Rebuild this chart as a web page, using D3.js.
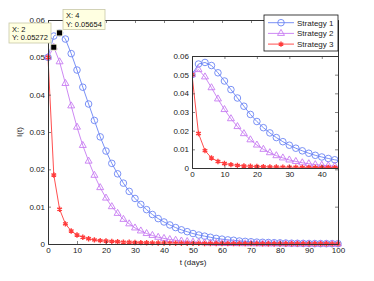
<!DOCTYPE html>
<html>
<head>
<meta charset="utf-8">
<script src="https://cdn.jsdelivr.net/npm/d3@7"></script>
<style>
  body { margin: 0; background: #fff; }
  #chart { width: 374px; height: 281px; }
  text { font-family: "Liberation Sans", Arial, sans-serif; }
</style>
</head>
<body>
<div id="chart"></div>
<script>
// time points (days), one every 2 days
var days = d3.range(0, 101, 2);

var strategy1 = [0.05, 0.0557, 0.05654, 0.0549, 0.0510, 0.0466, 0.0420, 0.0375, 0.0331, 0.0287,
  0.0249, 0.0216, 0.0188, 0.0163, 0.0141, 0.0122, 0.0106, 0.0092, 0.0079, 0.0068,
  0.0059, 0.0051, 0.0044, 0.0038, 0.0033, 0.0028, 0.0024, 0.0021, 0.0018, 0.0015,
  0.0013, 0.0011, 0.0010, 0.0008, 0.0007, 0.0006, 0.0005, 0.00045, 0.0004, 0.00035,
  0.0003, 0.00025, 0.0002, 0.00018, 0.00015, 0.00013, 0.00011, 0.0001, 0.00009, 0.00008, 0.00007];

var strategy2 = [0.05, 0.05272, 0.0488, 0.0430, 0.0370, 0.0313, 0.0264, 0.0222, 0.0184, 0.0151,
  0.0123, 0.0100, 0.0082, 0.0066, 0.0054, 0.0043, 0.0035, 0.0028, 0.0023, 0.0018,
  0.0015, 0.0012, 0.0010, 0.0008, 0.00065, 0.0005, 0.0004, 0.00033, 0.00027, 0.00022,
  0.00018, 0.00015, 0.00012, 0.0001, 0.00008, 0.00007, 0.00006, 0.00005, 0.00004, 0.00004,
  0.00003, 0.00003, 0.00002, 0.00002, 0.00002, 0.00001, 0.00001, 0.00001, 0.00001, 0.00001, 0.00001];

var strategy3 = [0.05, 0.0185, 0.0093, 0.0054, 0.0035, 0.0024, 0.0018, 0.0014, 0.0011, 0.0009,
  0.0008, 0.0007, 0.0006, 0.0005, 0.00045, 0.0004, 0.00036, 0.00033, 0.0003, 0.00027,
  0.00025, 0.00023, 0.00021, 0.0002, 0.00018, 0.00017, 0.00016, 0.00015, 0.00014, 0.00013,
  0.00012, 0.00011, 0.00011, 0.0001, 0.0001, 0.00009, 0.00009, 0.00008, 0.00008, 0.00007,
  0.00007, 0.00007, 0.00006, 0.00006, 0.00006, 0.00005, 0.00005, 0.00005, 0.00005, 0.00004, 0.00004];

var seriesNames = ["Strategy 1", "Strategy 2", "Strategy 3"];
var xTicks = [0, 10, 20, 30, 40, 50, 60, 70, 80, 90, 100];
var yTicks = [0, 0.01, 0.02, 0.03, 0.04, 0.05, 0.06];
var insetXTicks = [0, 10, 20, 30, 40];

// data tips
var tipPoints = [{ t: 2, v: 0.05272 }, { t: 4, v: 0.05654 }];

var colors = ["#6b84f4", "#c77cf2", "#ff3b3b"];
var markers = [d3.symbolCircle, d3.symbolTriangle, d3.symbolAsterisk];

var allSeries = [strategy1, strategy2, strategy3].map(function(vals, i) {
  return { name: seriesNames[i], color: colors[i], marker: markers[i],
    points: vals.map(function(v, j) { return { t: days[j], v: v }; }) };
});

var svg = d3.select("#chart").append("svg")
  .attr("width", 374).attr("height", 281);

function drawMarkers(g, s, x, y) {
  var sym = d3.symbol().type(s.marker).size(s.marker === d3.symbolAsterisk ? 20 : (s.marker === d3.symbolTriangle ? 21 : 34));
  g.selectAll(null).data(s.points).enter().append("path")
    .attr("d", sym)
    .attr("transform", function(d) { return "translate(" + x(d.t) + "," + y(d.v) + ")"; })
    .attr("fill", "none")
    .attr("stroke", s.color)
    .attr("stroke-width", s.marker === d3.symbolAsterisk ? 1.4 : 0.9);
}

function drawAxes(g, x, y, xt, yt, w, h) {
  var c = "#333";
  g.append("g").attr("transform", "translate(0," + h + ")")
    .call(d3.axisBottom(x).tickValues(xt).tickSizeInner(-3).tickSizeOuter(0).tickPadding(3).tickFormat(d3.format("d")));
  g.append("g").call(d3.axisTop(x).tickValues(xt).tickSizeInner(-3).tickSizeOuter(0).tickFormat(""));
  g.append("g")
    .call(d3.axisLeft(y).tickValues(yt).tickSizeInner(-3).tickSizeOuter(0).tickPadding(3).tickFormat(function(d) { return d === 0 ? "0" : d3.format(".2f")(d); }));
  g.append("g").attr("transform", "translate(" + w + ",0)")
    .call(d3.axisRight(y).tickValues(yt).tickSizeInner(-3).tickSizeOuter(0).tickFormat(""));
  g.selectAll(".domain").attr("stroke", c);
  g.selectAll(".tick line").attr("stroke", c).attr("stroke-width", 0.6);
  g.selectAll(".tick text").attr("fill", "#222").style("font-size", "8px");
}

// main axes
var margin = { left: 48, top: 20, right: 36, bottom: 37 };
var W = 374 - margin.left - margin.right;
var H = 281 - margin.top - margin.bottom;
var x = d3.scaleLinear().domain([0, 100]).range([0, W]);
var y = d3.scaleLinear().domain([0, 0.06]).range([H, 0]);
var main = svg.append("g").attr("transform", "translate(" + margin.left + "," + margin.top + ")");
main.append("rect").attr("width", W).attr("height", H).attr("fill", "#fff");

var line = d3.line().x(function(d) { return x(d.t); }).y(function(d) { return y(d.v); });
allSeries.forEach(function(s) {
  main.append("path").datum(s.points).attr("d", line)
    .attr("fill", "none").attr("stroke", s.color).attr("stroke-width", 0.9);
  drawMarkers(main, s, x, y);
});
drawAxes(main, x, y, xTicks, yTicks, W, H);

main.append("text").attr("x", W / 2).attr("y", H + 21)
  .attr("text-anchor", "middle").style("font-size", "8px").attr("fill", "#222").text("t (days)");
main.append("text").attr("transform", "translate(-26," + (H / 2) + ") rotate(-90)")
  .attr("text-anchor", "middle").style("font-size", "8px").attr("fill", "#222").text("I(t)");

// inset axes
var ix0 = 192, iy0 = 56, iW = 146, iH = 112;
var ix = d3.scaleLinear().domain([0, 45]).range([0, iW]);
var iy = d3.scaleLinear().domain([0, 0.06]).range([iH, 0]);
var inset = svg.append("g").attr("transform", "translate(" + ix0 + "," + iy0 + ")");
inset.append("rect").attr("width", iW).attr("height", iH).attr("fill", "#fff");
svg.append("clipPath").attr("id", "iclip").append("rect").attr("width", iW).attr("height", iH);
var iPlot = inset.append("g").attr("clip-path", "url(#iclip)");
var iline = d3.line().x(function(d) { return ix(d.t); }).y(function(d) { return iy(d.v); });
allSeries.forEach(function(s) {
  var pts = s.points.filter(function(d) { return d.t <= 46; });
  var ss = Object.assign({}, s, { points: pts });
  iPlot.append("path").datum(pts).attr("d", iline)
    .attr("fill", "none").attr("stroke", s.color).attr("stroke-width", 0.9);
  drawMarkers(iPlot, ss, ix, iy);
});
drawAxes(inset, ix, iy, insetXTicks, yTicks, iW, iH);

// legend
var leg = svg.append("g").attr("transform", "translate(264,15)");
leg.append("rect").attr("width", 74).attr("height", 36).attr("fill", "#fff").attr("stroke", "#111").attr("stroke-width", 0.8);
allSeries.forEach(function(s, i) {
  var row = leg.append("g").attr("transform", "translate(0," + (7.7 + i * 10.7) + ")");
  row.append("line").attr("x1", 4).attr("x2", 30).attr("stroke", s.color).attr("stroke-width", 0.9);
  drawMarkers(row, { marker: s.marker, color: s.color, points: [{ t: 0, v: 0 }] },
    function() { return 17; }, function() { return 0; });
  row.append("text").attr("x", 33).attr("y", 3).style("font-size", "8px").attr("fill", "#222").text(s.name);
});

// data tips
var tipBoxes = [{ x: 9, y: 23 }, { x: 63, y: 9.5 }];
tipPoints.forEach(function(p, i) {
  var b = tipBoxes[i];
  var tg = svg.append("g").attr("transform", "translate(" + b.x + "," + b.y + ")");
  tg.append("rect").attr("width", 42).attr("height", 20)
    .attr("fill", "#ffffe1").attr("stroke", "#c8c8a8").attr("stroke-width", 0.8);
  tg.append("text").attr("x", 3).attr("y", 8.5).style("font-size", "7.5px").attr("fill", "#111").text("X: " + p.t);
  tg.append("text").attr("x", 3).attr("y", 17).style("font-size", "7.5px").attr("fill", "#111").text("Y: " + p.v);
  main.append("rect")
    .attr("x", x(p.t) - 3).attr("y", y(p.v) - 3).attr("width", 6).attr("height", 6)
    .attr("fill", "#000").attr("stroke", "#ffffe1").attr("stroke-width", 0.8);
});
</script>
</body>
</html>
